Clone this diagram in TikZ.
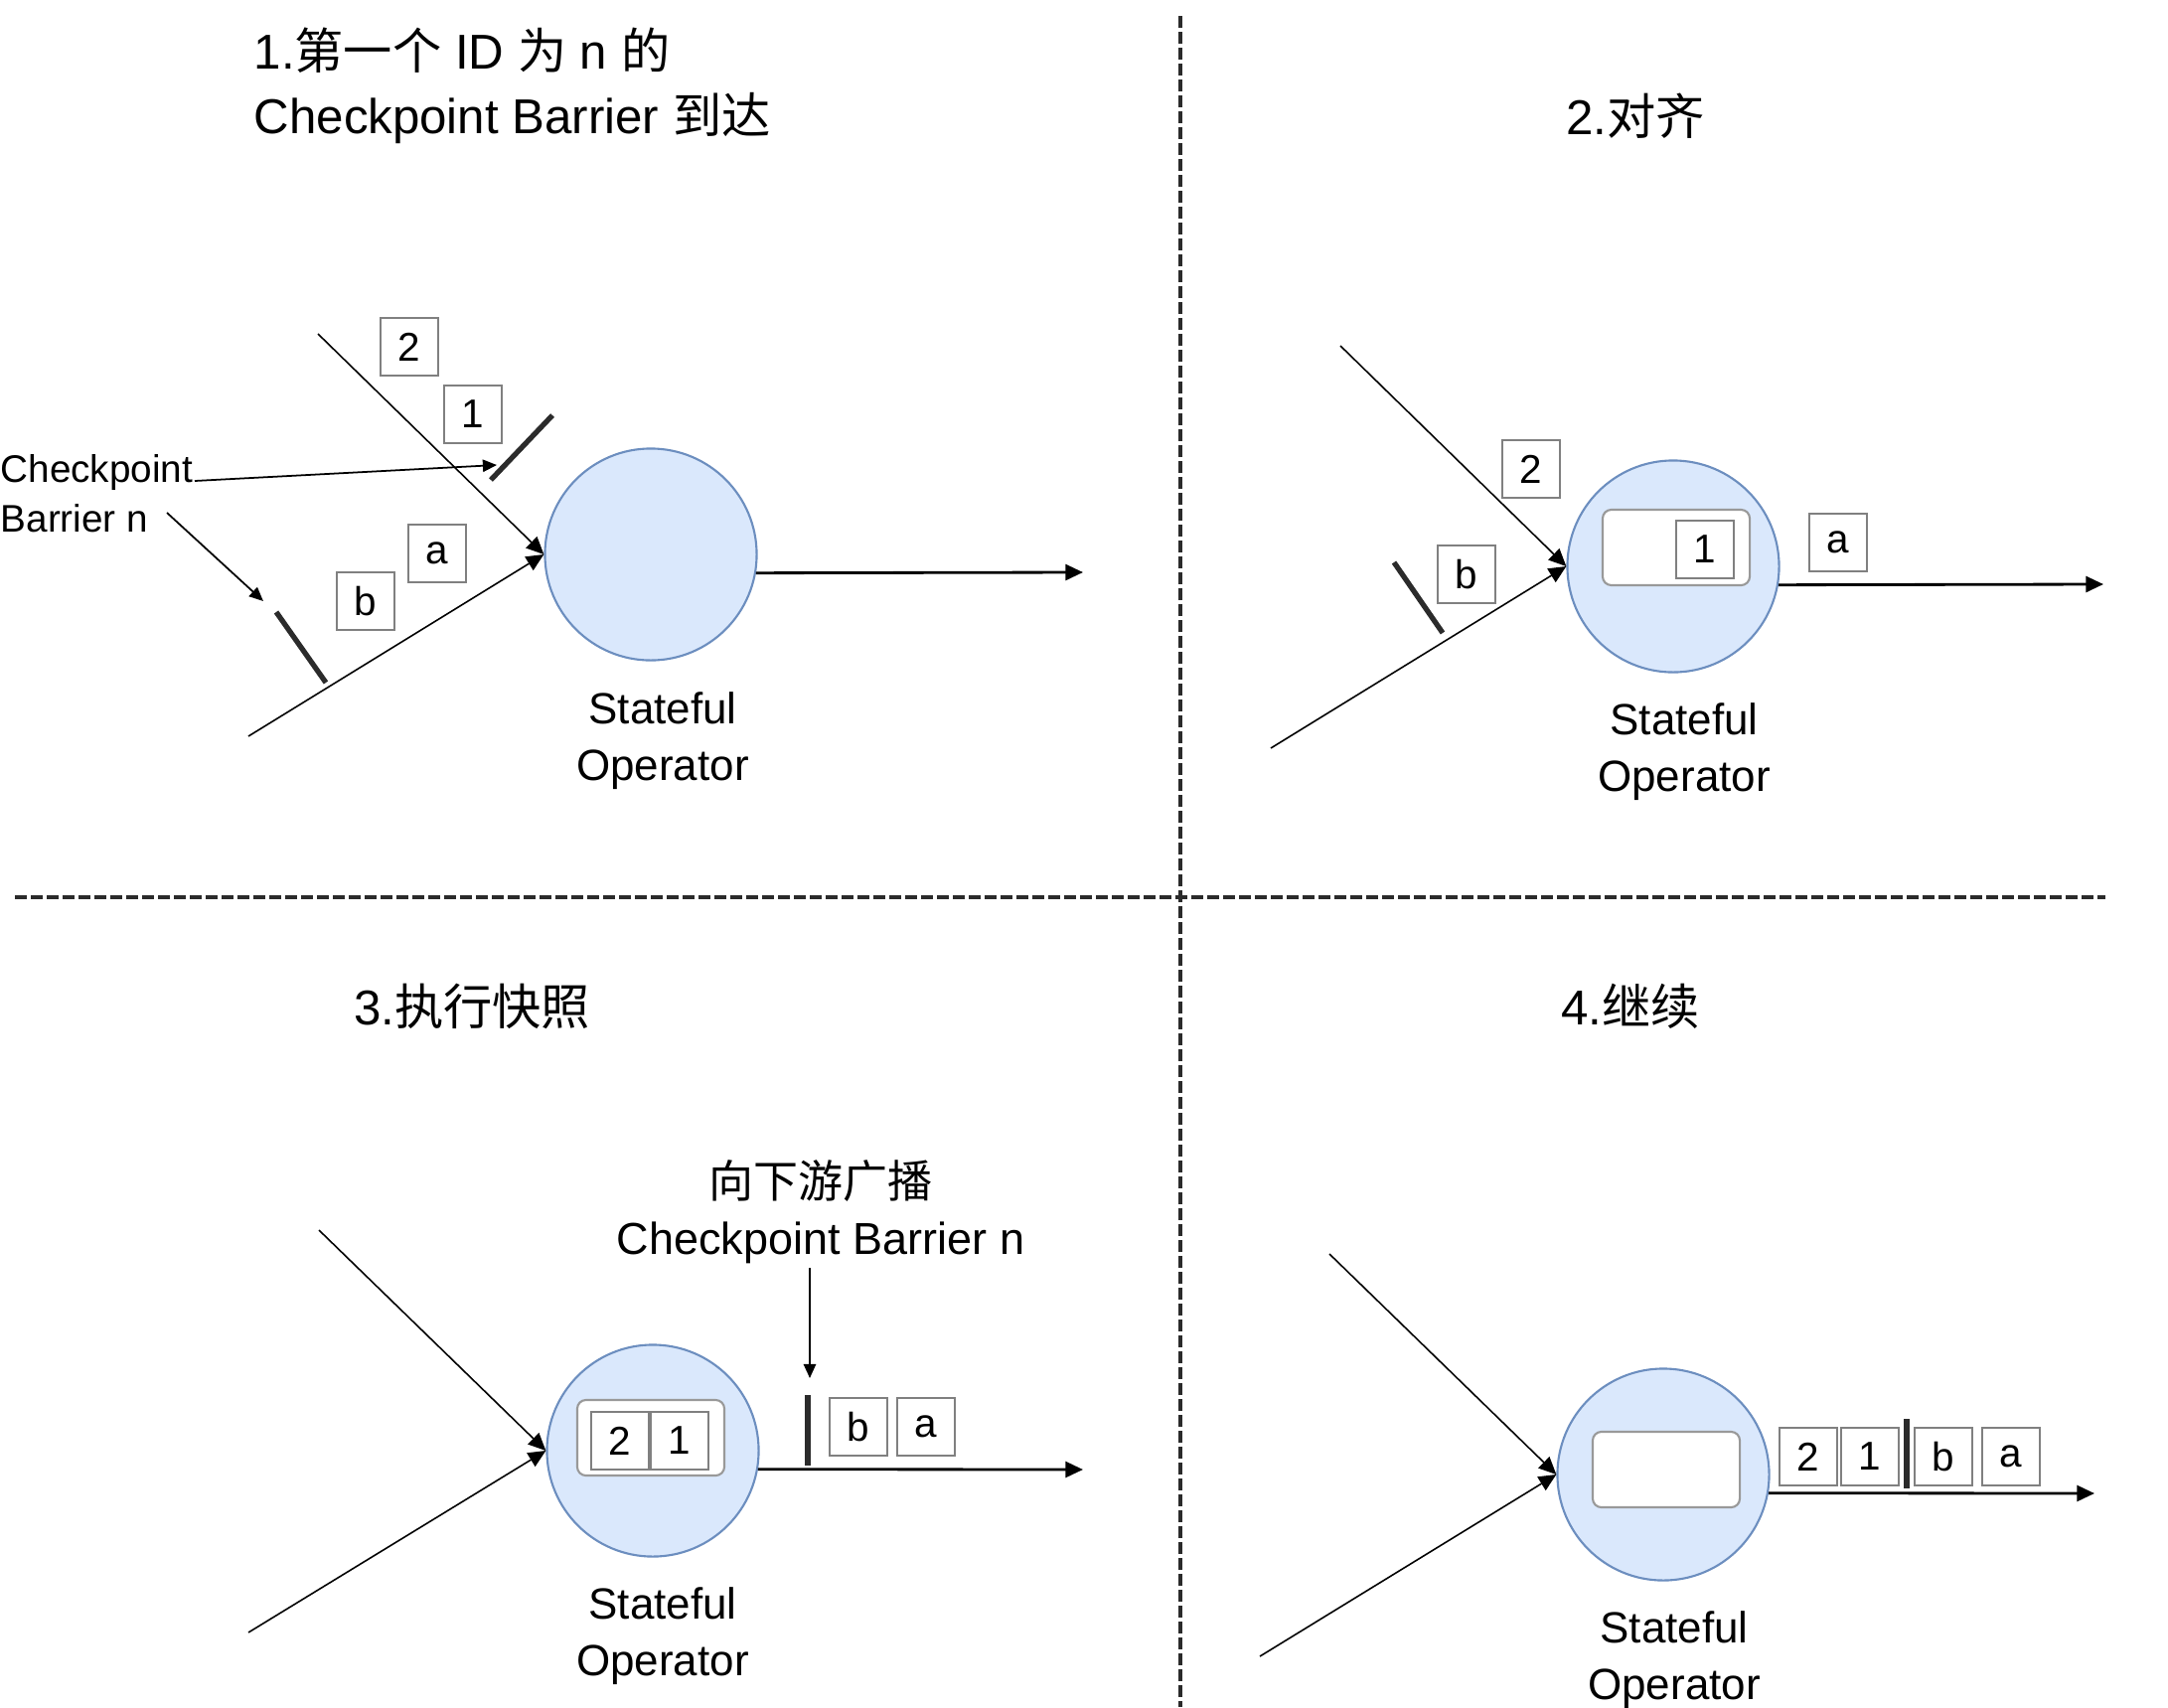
\documentclass[tikz,border=0pt]{standalone}
\usepackage{fontspec}
\setmainfont{Liberation Sans}
\newfontfamily\cjk{Noto Sans CJK SC}
\usepackage{tikz}
\usetikzlibrary{arrows.meta}
\definecolor{opfill}{HTML}{DAE8FC}
\definecolor{opline}{HTML}{6C8EBF}
\definecolor{itemline}{HTML}{808080}
\definecolor{storeline}{HTML}{999999}
\definecolor{barline}{HTML}{2B2B2B}

\begin{document}
\begin{tikzpicture}[x=0.01cm,y=0.01cm]
	\tikzstyle{every node}+=[inner sep=0pt]
	\tikzstyle{op}=[circle,draw=opline,fill=opfill,line width=0.6pt,minimum size=2.13cm]
	\tikzstyle{item}=[draw=itemline,line width=0.6pt,minimum size=0.58cm,font=\fontsize{11.5}{13}\selectfont]
	\tikzstyle{store}=[draw=storeline,fill=white,rounded corners=2.5pt,line width=0.6pt,minimum width=1.48cm,minimum height=0.76cm]
	\tikzstyle{bar}=[draw=barline,line width=1.5pt]
	\tikzstyle{flow}=[line width=0.45pt,-{Triangle[length=5pt,width=4.5pt]}]
	\tikzstyle{outflow}=[line width=0.8pt,-{Triangle[length=5pt,width=4.5pt]}]
	\tikzstyle{pointer}=[line width=0.5pt,-{Triangle[length=4pt,width=3.5pt]}]
	\tikzstyle{divider}=[draw=barline,line width=1.1pt,dash pattern=on 3.4pt off 1.15pt]
	\tikzstyle{title}=[font=\fontsize{14}{18.5}\selectfont]
	\tikzstyle{optext}=[align=center,font=\fontsize{12.5}{16.2}\selectfont]
	\tikzstyle{sidetext}=[align=left,font=\fontsize{11}{14.2}\selectfont]
	\useasboundingbox (0,0) rectangle (2182,-1718);
	\draw[divider] (1188,-16) -- (1188,-1718);
	\draw[divider] (15,-903) -- (2119,-903);
	% 1
	\node[title,align=left,anchor=west] (t1) at (255,-86) {1.{\cjk 第一个} ID {\cjk 为} n {\cjk 的}\\Checkpoint Barrier {\cjk 到达}};
	\node[op] (op1) at (655,-558) {};
	\node[optext] (s1) at (667,-746) {Stateful\\Operator};
	\coordinate (in1a) at (320,-336);
	\coordinate (in1b) at (250,-741);
	\coordinate (out1) at (1090,-576);
	\draw[flow] (in1a) -- (op1.west);
	\draw[flow] (in1b) -- (op1.west);
	\draw[outflow] (op1.-10) -- (out1);
	\node[item] (p2) at (412,-349) {2};
	\node[item] (p1) at (476,-417) {1};
	\node[item] (pa) at (440,-557) {a};
	\node[item] (pb) at (368,-605) {b};
	\coordinate (bar1s) at (556,-418);
	\coordinate (bar1e) at (494,-483);
	\coordinate (bar2s) at (278,-616);
	\coordinate (bar2e) at (328,-687);
	\draw[bar] (bar1s) -- (bar1e);
	\draw[bar] (bar2s) -- (bar2e);
	\node[sidetext,anchor=west] (cb) at (0,-497) {Checkpoint\\Barrier n};
	\coordinate (cb1) at (196,-484);
	\coordinate (cb2) at (168,-516);
	\coordinate (tip1) at (500,-468);
	\coordinate (tip2) at (265,-605);
	\draw[pointer] (cb1) -- (tip1);
	\draw[pointer] (cb2) -- (tip2);
	% 2
	\node[title] (t2) at (1646,-117) {2.{\cjk 对齐}};
	\node[op] (op2) at (1684,-570) {};
	\node[store] (st2) at (1687,-551) {};
	\node[item] (q1) at (1716,-553) {1};
	\node[item] (q2) at (1541,-472) {2};
	\node[item] (qb) at (1476,-578) {b};
	\node[item] (qa) at (1850,-546) {a};
	\node[optext] (s2) at (1695,-757) {Stateful\\Operator};
	\coordinate (in2a) at (1349,-348);
	\coordinate (in2b) at (1279,-753);
	\coordinate (out2) at (2117,-588);
	\draw[flow] (in2a) -- (op2.west);
	\draw[flow] (in2b) -- (op2.west);
	\draw[outflow] (op2.-10) -- (out2);
	\coordinate (bar3s) at (1403,-566);
	\coordinate (bar3e) at (1452,-637);
	\draw[bar] (bar3s) -- (bar3e);
	% 3
	\node[title] (t3) at (475,-1013) {3.{\cjk 执行快照}};
	\node[op] (op3) at (657,-1460) {};
	\node[store] (st3) at (655,-1447) {};
	\node[item] (r2) at (624,-1450) {2};
	\node[item] (r1) at (684,-1450) {1};
	\node[item] (rb) at (864,-1436) {b};
	\node[item] (ra) at (932,-1436) {a};
	\node[optext] (s3) at (667,-1647) {Stateful\\Operator};
	\node[optext,font=\fontsize{12.8}{16.2}\selectfont] (bc) at (826,-1220) {{\cjk 向下游广播}\\Checkpoint Barrier n};
	\coordinate (in3a) at (321,-1238);
	\coordinate (in3b) at (250,-1643);
	\coordinate (out3) at (1090,-1479);
	\draw[flow] (in3a) -- (op3.west);
	\draw[flow] (in3b) -- (op3.west);
	\draw[outflow] (op3.-10) -- (out3);
	\coordinate (bar4s) at (813,-1404);
	\coordinate (bar4e) at (813,-1475);
	\draw[bar] (bar4s) -- (bar4e);
	\coordinate (dn1) at (815,-1276);
	\coordinate (dn2) at (815,-1387);
	\draw[pointer] (dn1) -- (dn2);
	% 4
	\node[title] (t4) at (1641,-1013) {4.{\cjk 继续}};
	\node[op] (op4) at (1674,-1484) {};
	\node[store] (st4) at (1677,-1479) {};
	\node[item] (u2) at (1820,-1466) {2};
	\node[item] (u1) at (1882,-1466) {1};
	\node[item] (ub) at (1956,-1466) {b};
	\node[item] (ua) at (2024,-1466) {a};
	\node[optext] (s4) at (1685,-1671) {Stateful\\Operator};
	\coordinate (in4a) at (1338,-1262);
	\coordinate (in4b) at (1268,-1667);
	\coordinate (out4) at (2108,-1503);
	\draw[flow] (in4a) -- (op4.west);
	\draw[flow] (in4b) -- (op4.west);
	\draw[outflow] (op4.-10) -- (out4);
	\coordinate (bar5s) at (1919,-1428);
	\coordinate (bar5e) at (1919,-1498);
	\draw[bar] (bar5s) -- (bar5e);
\end{tikzpicture}
\end{document}
